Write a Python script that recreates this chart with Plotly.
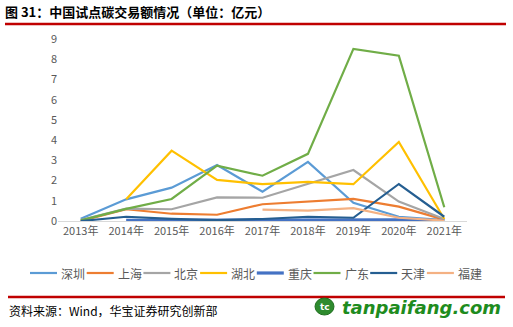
import plotly.graph_objects as go

years = ["2013年", "2014年", "2015年", "2016年", "2017年", "2018年", "2019年", "2020年", "2021年"]

shenzhen  = [0.11, 1.07, 1.65, 2.77, 1.45, 2.92, 0.90, 0.21, 0.05]
shanghai  = [0.00, 0.58, 0.36, 0.31, 0.83, 0.96, 1.09, 0.71, 0.07]
beijing   = [0.05, 0.61, 0.58, 1.17, 1.15, 1.82, 2.52, 0.96, 0.10]
hubei     = [None, 1.07, 3.48, 2.03, 1.82, 1.93, 1.82, 3.91, 0.10]
chongqing = [None, 0.03, 0.04, 0.05, 0.06, 0.07, 0.05, 0.06, 0.02]
guangdong = [0.03, 0.60, 1.09, 2.74, 2.24, 3.32, 8.51, 8.17, 0.68]
tianjin   = [0.00, 0.21, 0.11, 0.04, 0.10, 0.21, 0.16, 1.83, 0.21]
fujian    = [None, None, None, None, 0.56, 0.51, 0.64, 0.16, 0.02]

series = [
    ("深圳", shenzhen, "#5B9BD5", 2.2),
    ("上海", shanghai, "#ED7D31", 2.2),
    ("北京", beijing, "#A5A5A5", 2.2),
    ("湖北", hubei, "#FFC000", 2.2),
    ("重庆", chongqing, "#4472C4", 3.2),
    ("广东", guangdong, "#70AD47", 2.2),
    ("天津", tianjin, "#255E91", 2.2),
    ("福建", fujian, "#F4B183", 2.2),
]

font_cjk = "Noto Sans CJK SC"

fig = go.Figure()
for name, vals, color, w in series:
    fig.add_trace(go.Scatter(x=years, y=vals, name=name, mode="lines",
                             line=dict(color=color, width=w)))

fig.update_layout(
    width=513, height=327,
    margin=dict(l=58, r=46, t=39, b=106),
    paper_bgcolor="white", plot_bgcolor="white",
    font=dict(family=font_cjk, size=11, color="#595959"),
    showlegend=False,
    xaxis=dict(type="category", range=[-0.5, 8.5], showline=True, linecolor="#D9D9D9",
               linewidth=1, ticks="", showgrid=False, zeroline=False,
               tickfont=dict(size=11, color="#595959")),
    yaxis=dict(range=[0, 9], dtick=1, showgrid=False, zeroline=False, showline=False,
               ticks="", tickfont=dict(size=11, color="#595959")),
)

def px(x):
    return (x - 58) / 409

def py(y):
    return (221 - y) / 182

# legend (built from the series list)
leg_y = 273
for i, (name, vals, color, w) in enumerate(series):
    x0 = 30 + 56.7 * i
    fig.add_shape(type="line", xref="paper", yref="paper",
                  x0=px(x0), x1=px(x0 + 27), y0=py(leg_y), y1=py(leg_y),
                  line=dict(color=color, width=w))
    fig.add_annotation(text=name, xref="paper", yref="paper",
                       x=px(x0 + 29), y=py(leg_y), xanchor="left", yanchor="middle",
                       showarrow=False, font=dict(family=font_cjk, size=12, color="#595959"))

# title and footer
fig.add_annotation(text="<b>图 31：中国试点碳交易额情况（单位：亿元）</b>", xref="paper", yref="paper",
                   x=px(3), y=py(11), xanchor="left", yanchor="middle",
                   showarrow=False, font=dict(family=font_cjk, size=13, color="#000000"))
fig.add_shape(type="line", xref="paper", yref="paper",
              x0=px(5), x1=px(506), y0=py(24), y1=py(24),
              line=dict(color="#C00000", width=2.5))
fig.add_shape(type="line", xref="paper", yref="paper",
              x0=px(8), x1=px(505), y0=py(297), y1=py(297),
              line=dict(color="#C00000", width=2.5))
fig.add_annotation(text="资料来源：Wind，华宝证券研究创新部", xref="paper", yref="paper",
                   x=px(7), y=py(310), xanchor="left", yanchor="middle",
                   showarrow=False, font=dict(family=font_cjk, size=12, color="#000000"))
# logo
fig.add_shape(type="circle", xref="paper", yref="paper",
              x0=px(315), x1=px(334), y0=py(298), y1=py(315),
              fillcolor="#2E8B2E", line=dict(color="#1F6F1F", width=1))
fig.add_annotation(text="<b>tc</b>", xref="paper", yref="paper",
                   x=px(324.5), y=py(306.5), xanchor="center", yanchor="middle",
                   showarrow=False, font=dict(family="DejaVu Sans", size=9, color="#FFFFFF"))
fig.add_annotation(text="<b><i>tanpaifang.com</i></b>", xref="paper", yref="paper",
                   x=px(340), y=py(307), xanchor="left", yanchor="middle",
                   showarrow=False, font=dict(family="DejaVu Sans", size=18, color="#1E8C1E"))

fig.write_html("out.html")
